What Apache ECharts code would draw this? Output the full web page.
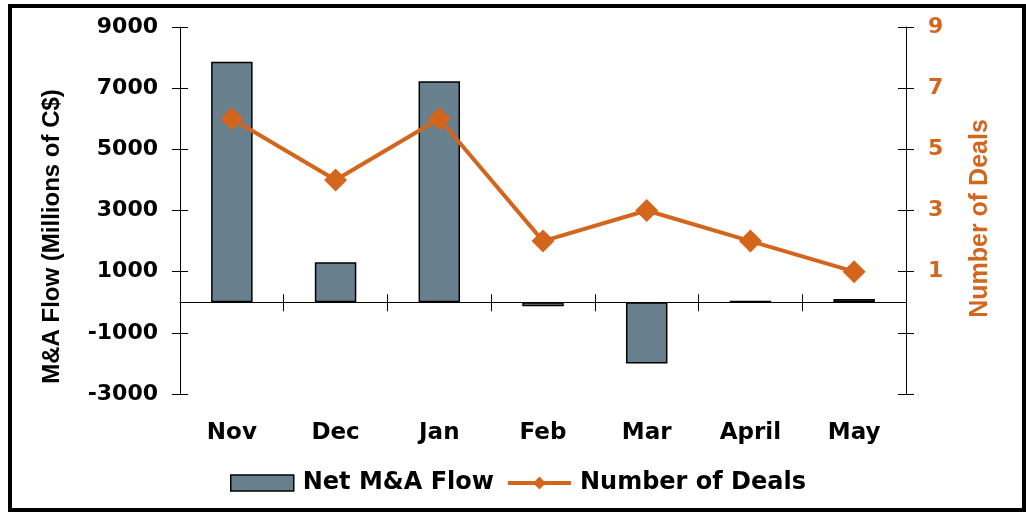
<!DOCTYPE html>
<html>
<head>
<meta charset="utf-8">
<script src="https://cdn.jsdelivr.net/npm/echarts@6/dist/echarts.min.js"></script>
<style>
  html, body { margin: 0; padding: 0; background: #fff; }
  #main { width: 1026px; height: 514px; }
</style>
</head>
<body>
<div id="main"></div>
<script>
// data
var months = ['Nov', 'Dec', 'Jan', 'Feb', 'Mar', 'April', 'May'];
var netFlow = [7860, 1310, 7230, -130, -2000, 50, 110];
var deals = [6, 4, 6, 2, 3, 2, 1];
var leftTicks = [-3000, -1000, 1000, 3000, 5000, 7000, 9000];
var rightTicks = [-3, -1, 1, 3, 5, 7, 9];
var rightLabels = [1, 3, 5, 7, 9];

var FONT = 'Liberation Sans';
var WIDE = 'DejaVu Sans';   // wider bold face, closer to the spaced-out labels
var ORANGE = '#d4651d';
var BAR = '#687f8d';

var chart = echarts.init(document.getElementById('main'));

// hidden axis line (transparent) for the tick-only axes
var noLine = { show: true, onZero: false, lineStyle: { color: 'rgba(0,0,0,0)', width: 1 } };
var tickStyle = { color: '#000', width: 1, opacity: 1 };

// every axis shows "cross" ticks, so each one is drawn twice (outside + inside)
function yAx(pos, min, max, ticks, inside, extra) {
    var a = {
        type: 'value',
        position: pos,
        min: min,
        max: max,
        splitLine: { show: false },
        axisLine: inside ? noLine : { show: true, lineStyle: { color: '#000', width: 1 } },
        axisTick: { show: true, inside: inside, length: 8, customValues: ticks, lineStyle: tickStyle },
        axisLabel: { show: false }
    };
    return Object.assign(a, extra || {});
}

var option = {
    animation: false,
    backgroundColor: '#fff',
    textStyle: { fontFamily: FONT },
    grid: { left: 180, right: 120, top: 27, bottom: 120 },
    legend: {
        left: 225,
        top: 466,
        itemWidth: 63,
        itemHeight: 16,
        itemGap: 12,
        textStyle: { fontFamily: WIDE, fontSize: 24, fontWeight: 'bold', color: '#000',
                     padding: [0, 0, 0, 4] },
        data: [
            { name: 'Net M&A Flow', icon: 'rect',
              itemStyle: { borderColor: '#000', borderWidth: 1.5 } },
            { name: 'Number of Deals', lineStyle: { width: 4 } }
        ]
    },
    xAxis: [
        {   // zero line with downward ticks
            type: 'category', data: months, position: 'bottom',
            axisLine: { show: true, onZero: true, lineStyle: { color: '#000', width: 1 } },
            axisTick: { show: true, length: 9, lineStyle: tickStyle },
            axisLabel: { show: false }
        },
        {   // upward half of the ticks
            type: 'category', data: months, position: 'top',
            axisLine: { show: true, onZero: true, lineStyle: { color: 'rgba(0,0,0,0)', width: 1 } },
            axisTick: { show: true, length: 8, lineStyle: tickStyle },
            axisLabel: { show: false }
        },
        {   // month labels at the bottom
            type: 'category', data: months, position: 'bottom',
            axisLine: { show: false, onZero: false },
            axisTick: { show: false },
            axisLabel: { margin: 28, fontFamily: WIDE, fontSize: 23, fontWeight: 'bold', color: '#000' }
        }
    ],
    yAxis: [
        yAx('left', -3000, 9000, leftTicks, false, {
            name: 'M&A Flow (Millions of C$)',
            nameLocation: 'middle',
            nameGap: 116,
            nameTextStyle: { fontFamily: FONT, fontSize: 24, fontWeight: 'bold', color: '#000',
                             padding: [0, 52, 0, 0] },
            axisLabel: { show: true, margin: 22, customValues: leftTicks,
                         formatter: function (v) { return String(v); },
                         fontFamily: WIDE, fontSize: 22, fontWeight: 'bold', color: '#000' }
        }),
        yAx('left', -3000, 9000, leftTicks, true),
        yAx('right', -3, 9, rightTicks, false, {
            name: 'Number of Deals',
            nameLocation: 'middle',
            nameGap: 62,
            nameTextStyle: { fontFamily: FONT, fontSize: 25, fontWeight: 'bold', color: ORANGE,
                             padding: [0, 16, 0, 0] },
            axisLabel: { show: true, margin: 22, customValues: rightLabels,
                         fontFamily: WIDE, fontSize: 22, fontWeight: 'bold', color: ORANGE }
        }),
        yAx('right', -3, 9, rightTicks, true)
    ],
    series: [
        {
            name: 'Net M&A Flow',
            type: 'bar',
            xAxisIndex: 0,
            yAxisIndex: 0,
            barWidth: '40%',
            data: netFlow,
            itemStyle: { color: BAR, borderColor: '#000', borderWidth: 1.5 }
        },
        {
            name: 'Number of Deals',
            type: 'line',
            xAxisIndex: 0,
            yAxisIndex: 2,
            data: deals,
            symbol: 'diamond',
            symbolSize: 23,
            lineStyle: { color: ORANGE, width: 4 },
            itemStyle: { color: ORANGE }
        },
        // empty series so the tick-only axes get drawn
        { type: 'line', xAxisIndex: 1, yAxisIndex: 1, data: [], silent: true },
        { type: 'line', xAxisIndex: 1, yAxisIndex: 3, data: [], silent: true }
    ],
    graphic: [
        {   // outer frame
            type: 'rect',
            shape: { x: 10, y: 6, width: 1014, height: 504 },
            style: { fill: null, stroke: '#000', lineWidth: 4 },
            silent: true
        }
    ]
};

chart.setOption(option);
</script>
</body>
</html>
